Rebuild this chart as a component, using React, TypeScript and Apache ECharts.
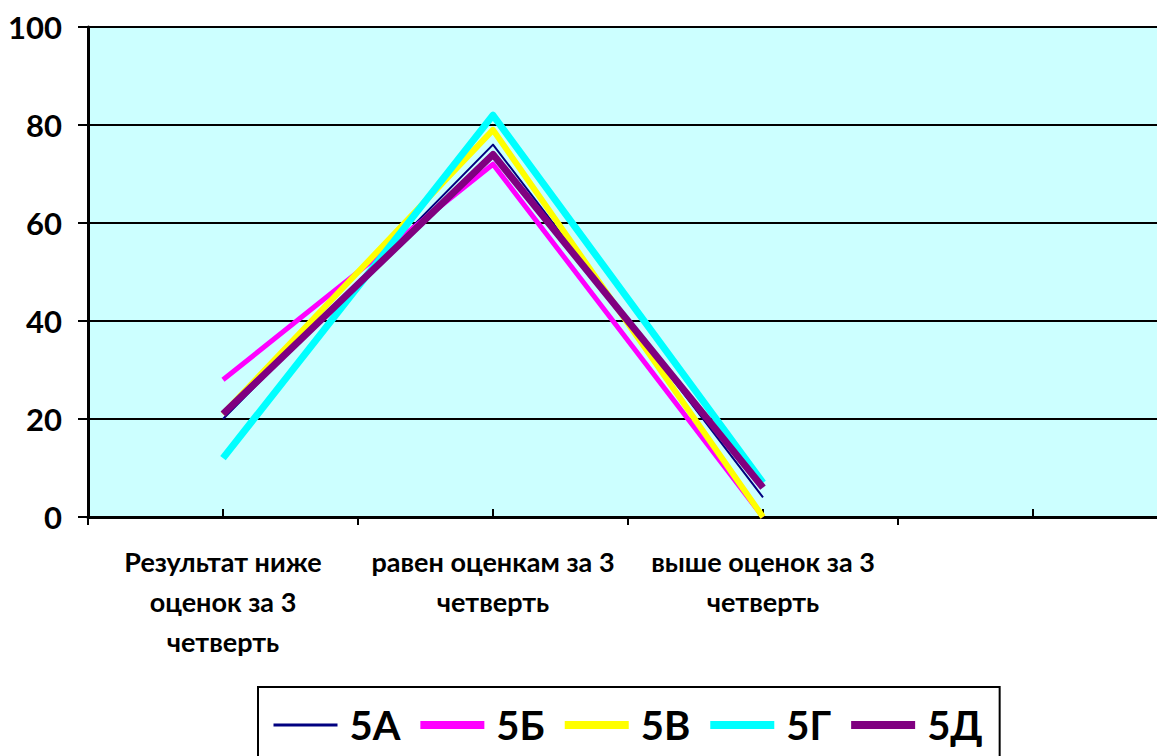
import React, { useEffect, useRef } from "react";
import * as echarts from "echarts";

// Categories of the x axis (the last slot is intentionally empty)
const categories: string[] = [
  "Результат ниже\nоценок за 3\nчетверть",
  "равен оценкам за 3\nчетверть",
  "выше оценок за 3\nчетверть",
  "",
];

// Percentages per class
const class5A: number[] = [20, 76, 4];
const class5B: number[] = [28, 72, 0];
const class5V: number[] = [21, 79, 0];
const class5G: number[] = [12, 82, 7];
const class5D: number[] = [21, 74, 6];

const seriesNames: string[] = ["5А", "5Б", "5В", "5Г", "5Д"];
const seriesData: number[][] = [class5A, class5B, class5V, class5G, class5D];
const seriesColors: string[] = ["#000080", "#FF00FF", "#FFFF00", "#00FFFF", "#800080"];
const seriesWidths: number[] = [2, 5, 6, 7, 7];
const legendWidths: number[] = [3, 8, 8, 8, 8];

const FONT = 'Lato, "Open Sans", "Noto Sans", sans-serif';

// The plot runs a little past the right edge of the visible frame
const CHART_W = 1168;
const CHART_H = 756;

export default function App() {
  const ref = useRef<HTMLDivElement>(null);

  useEffect(() => {
    if (!ref.current) return;
    const chart = echarts.init(ref.current, undefined, { renderer: "svg" });

    chart.setOption({
      animation: false,
      backgroundColor: "#ffffff",
      textStyle: { fontFamily: FONT },
      grid: {
        left: 88,
        top: 27,
        bottom: 239,
        right: 0,
        show: true,
        backgroundColor: "#CCFFFF",
        borderWidth: 0,
        containLabel: false,
      },
      legend: {
        left: 258,
        top: 687,
        orient: "horizontal",
        padding: [16, 17, 16, 14],
        borderColor: "#000000",
        borderWidth: 2,
        itemWidth: 64,
        itemHeight: 10,
        itemGap: 16,
        textStyle: {
          fontFamily: FONT,
          fontSize: 40,
          fontWeight: "bold",
          color: "#000000",
          lineHeight: 44,
          padding: [0, 0, 0, 7],
        },
        data: seriesNames.map((name, i) => ({
          name,
          itemStyle: { opacity: 0 },
          lineStyle: { width: legendWidths[i], color: seriesColors[i] },
        })),
      },
      xAxis: [
        {
          type: "category",
          data: categories,
          boundaryGap: true,
          position: "bottom",
          axisLine: { show: true, lineStyle: { color: "#000000", width: 3 } },
          axisTick: { show: true, inside: false, length: 8, lineStyle: { color: "#000000", width: 2 } },
          axisLabel: {
            interval: 0,
            margin: 24,
            fontFamily: FONT,
            fontSize: 27,
            fontWeight: "bold",
            color: "#000000",
            lineHeight: 40,
          },
          splitLine: { show: false },
        },
        {
          // center tick marks pointing into the plot
          type: "category",
          data: categories,
          boundaryGap: true,
          position: "bottom",
          axisLine: { show: false },
          axisTick: {
            show: true,
            inside: true,
            alignWithLabel: true,
            length: 8,
            lineStyle: { color: "#000000", width: 2 },
          },
          axisLabel: { show: false },
          splitLine: { show: false },
        },
      ],
      yAxis: {
        type: "value",
        min: 0,
        max: 100,
        interval: 20,
        axisLine: { show: true, lineStyle: { color: "#000000", width: 3 } },
        axisTick: { show: true, inside: false, length: 10, lineStyle: { color: "#000000", width: 2 } },
        axisLabel: {
          margin: 26,
          fontFamily: FONT,
          fontSize: 31,
          fontWeight: "bold",
          color: "#000000",
        },
        splitLine: { show: true, lineStyle: { color: "#000000", width: 2 } },
      },
      series: seriesNames.map((name, i) => ({
        name,
        type: "line",
        xAxisIndex: 0,
        data: seriesData[i],
        symbol: "none",
        showSymbol: false,
        lineStyle: {
          color: seriesColors[i],
          width: seriesWidths[i],
          join: "round",
          cap: "butt",
        },
        itemStyle: { color: seriesColors[i] },
        emphasis: { disabled: true },
      })),
    });

    return () => chart.dispose();
  }, []);

  return (
    <div
      style={{
        position: "fixed",
        left: 0,
        top: 0,
        width: 1157,
        height: 756,
        overflow: "hidden",
        background: "#ffffff",
      }}
    >
      <div ref={ref} style={{ width: CHART_W, height: CHART_H }} />
    </div>
  );
}
